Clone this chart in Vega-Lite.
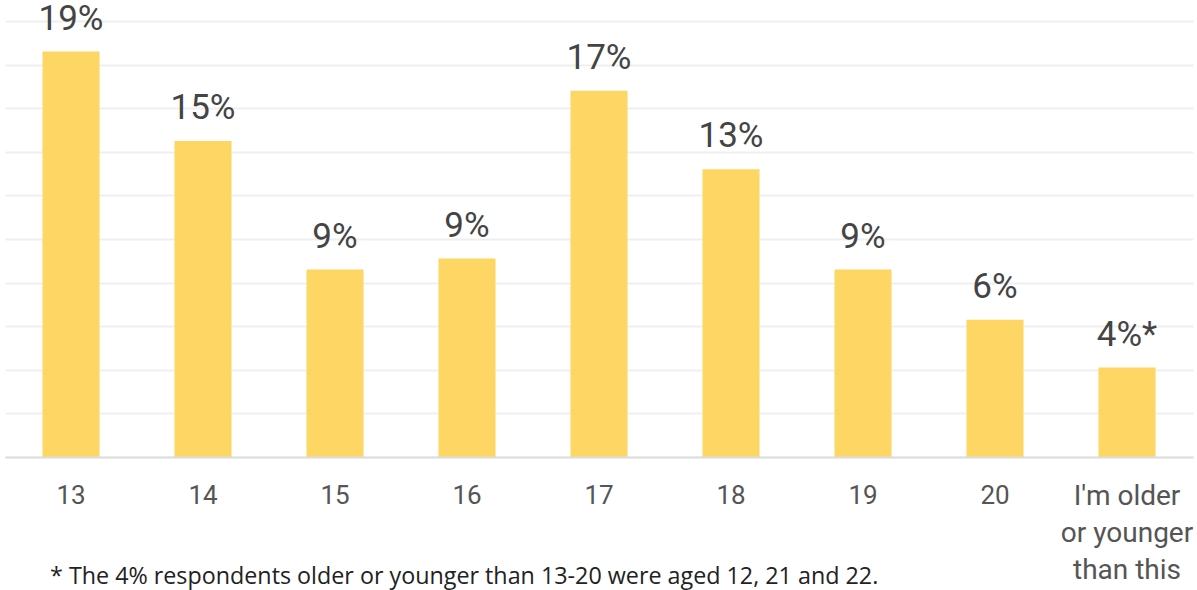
{
  "$schema": "https://vega.github.io/schema/vega-lite/v6.json",
  "width": 1188,
  "height": 436,
  "autosize": {"type": "none"},
  "padding": {"left": 5, "top": 21, "right": 4, "bottom": 133},
  "background": "white",
  "title": {
    "text": "* The 4% respondents older or younger than 13-20 were aged 12, 21 and 22.",
    "orient": "bottom",
    "anchor": "start",
    "frame": "group",
    "offset": -18,
    "dx": 45,
    "font": "Open Sans",
    "fontSize": 23.3,
    "fontWeight": "normal",
    "color": "#222222"
  },
  "data": {
    "values": [
      {"age": "13", "pct": 18.6, "label": "19%"},
      {"age": "14", "pct": 14.5, "label": "15%"},
      {"age": "15", "pct": 8.6, "label": "9%"},
      {"age": "16", "pct": 9.1, "label": "9%"},
      {"age": "17", "pct": 16.8, "label": "17%"},
      {"age": "18", "pct": 13.2, "label": "13%"},
      {"age": "19", "pct": 8.6, "label": "9%"},
      {"age": "20", "pct": 6.3, "label": "6%"},
      {"age": "I'm older or younger than this", "pct": 4.1, "label": "4%*"}
    ]
  },
  "encoding": {
    "x": {
      "field": "age",
      "type": "nominal",
      "sort": null,
      "scale": {"paddingInner": 0.568, "paddingOuter": 0.284},
      "axis": {
        "title": null,
        "labelAngle": 0,
        "labelFont": "Roboto",
        "labelFontSize": {"condition": {"test": "length(datum.value) > 3", "value": 28}, "value": 26},
        "labelColor": "#555555",
        "labelPadding": 25,
        "labelLineHeight": 37,
        "labelBaseline": "top",
        "labelExpr": "datum.label == \"I'm older or younger than this\" ? [\"I'm older\", \"or younger\", \"than this\"] : datum.label",
        "ticks": false,
        "domainColor": "#dddddd",
        "domainWidth": 2,
        "grid": false,
        "zindex": 1
      }
    },
    "y": {
      "field": "pct",
      "type": "quantitative",
      "scale": {"domain": [0, 20], "nice": false},
      "axis": {
        "title": null,
        "labels": false,
        "ticks": false,
        "domain": false,
        "values": [0, 2, 4, 6, 8, 10, 12, 14, 16, 18, 20],
        "grid": true,
        "gridColor": "#efefef",
        "gridWidth": 2
      }
    }
  },
  "layer": [
    {"mark": {"type": "bar", "color": "#FDD663"}},
    {
      "mark": {
        "type": "text",
        "font": "Roboto",
        "fontSize": 35,
        "color": "#444444",
        "baseline": "alphabetic",
        "dy": -22
      },
      "encoding": {"text": {"field": "label"}}
    }
  ],
  "config": {"view": {"stroke": null}}
}
